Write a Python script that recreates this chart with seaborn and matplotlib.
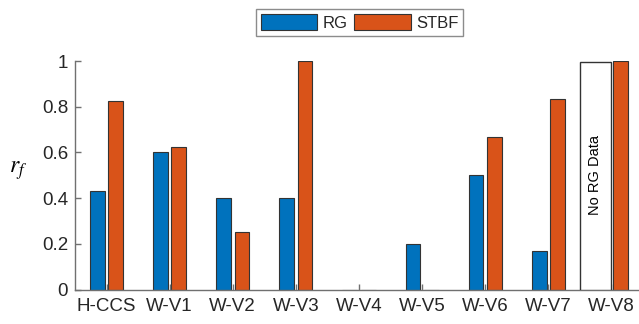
import matplotlib
matplotlib.use("Agg")
import matplotlib.pyplot as plt
import seaborn as sns
import pandas as pd
import numpy as np

categories = ["H-CCS", "W-V1", "W-V2", "W-V3", "W-V4", "W-V5", "W-V6", "W-V7", "W-V8"]
rg = [0.43, 0.60, 0.40, 0.40, 0.0, 0.20, 0.50, 0.167, np.nan]
stbf = [0.825, 0.625, 0.25, 1.0, 0.0, 0.0, 0.667, 0.833, 1.0]
series = ["RG", "STBF"]
colors = ["#0072BD", "#D95319"]
no_data_height = 0.995
no_data_label = "No RG Data"
yticks = [0, 0.2, 0.4, 0.6, 0.8, 1]
ytick_labels = ["0", "0.2", "0.4", "0.6", "0.8", "1"]

df = pd.DataFrame({
    "cat": categories * 2,
    "val": rg + stbf,
    "series": [series[0]] * len(categories) + [series[1]] * len(categories),
})

plt.rcParams["font.family"] = ["Liberation Sans", "DejaVu Sans"]
plt.rcParams["mathtext.fontset"] = "stix"
fig = plt.figure(figsize=(6.39, 3.24), dpi=100)
ax = fig.add_axes([75 / 639, 34.5 / 324, 568 / 639, 228.5 / 324])

sns.barplot(data=df, x="cat", y="val", hue="series", order=categories,
            hue_order=series, palette=colors, width=0.58, gap=0.19,
            edgecolor="#333333", linewidth=0.8, saturation=1, ax=ax,
            legend=True)

# placeholder bar for missing RG data
idx = categories.index("W-V8")
ax.bar(idx - 0.255, no_data_height, width=0.5, color="white",
       edgecolor="#333333", linewidth=1.0, zorder=3)
ax.text(idx - 0.255, 0.5, no_data_label, rotation=90, ha="center",
        va="center", fontsize=10.5, color="black", zorder=4)

ax.set_xlim(-0.5, len(categories) - 0.5)
ax.set_ylim(0, 1)
ax.set_yticks(yticks)
ax.set_yticklabels(ytick_labels)
ax.set_xlabel("")
ax.set_ylabel("$r_f$", rotation=0, fontsize=17, va="center")
ax.yaxis.set_label_coords(-0.101, 0.52)

for s in ["top", "right"]:
    ax.spines[s].set_visible(False)
for s in ["left", "bottom"]:
    ax.spines[s].set_color("#707070")
    ax.spines[s].set_linewidth(1.0)
ax.tick_params(axis="both", direction="in", length=4, color="#707070",
               labelsize=13.5, labelcolor="#262626", width=1.0)
ax.tick_params(axis="x", pad=6)
ax.tick_params(axis="y", pad=5)

handles, labels = ax.get_legend_handles_labels()
leg = ax.legend(handles[:2], labels[:2], ncol=2, loc="center",
                bbox_to_anchor=(359.5 / 639, 1 - 22.5 / 324),
                bbox_transform=fig.transFigure, frameon=True, fancybox=False,
                edgecolor="#707070", fontsize=12, handlelength=3.4,
                handleheight=1.05, handletextpad=0.3, columnspacing=0.4,
                borderpad=0.3, borderaxespad=0)
leg.get_frame().set_linewidth(1.0)
for t in leg.get_texts():
    t.set_color("#262626")

fig.savefig("out.png", dpi=100)
